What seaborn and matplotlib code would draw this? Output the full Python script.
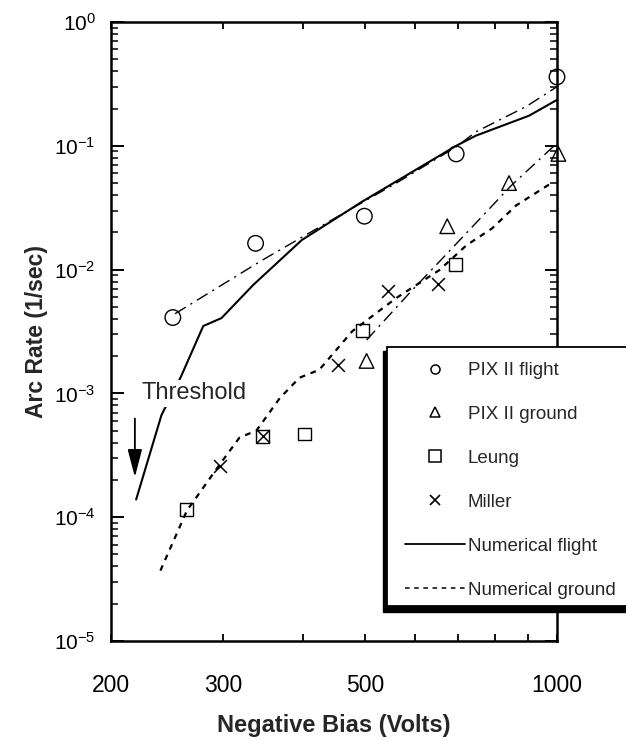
import matplotlib
matplotlib.use("Agg")
import matplotlib.pyplot as plt
import matplotlib.ticker as mticker
from matplotlib.lines import Line2D
from matplotlib.patches import Rectangle
import seaborn as sns

# measured points (negative bias in volts, arc rate in 1/sec)
flight_bias = [250, 337, 499, 695, 1000]
flight_rate = [4.1e-3, 1.63e-2, 2.7e-2, 8.6e-2, 0.36]

ground_bias = [503, 673, 841, 1005]
ground_rate = [1.83e-3, 2.24e-2, 5.0e-2, 8.6e-2]

leung_bias = [263, 346, 402, 496, 693]
leung_rate = [1.15e-4, 4.5e-4, 4.7e-4, 3.2e-3, 1.1e-2]

miller_bias = [296, 346, 453, 544, 652]
miller_rate = [2.6e-4, 4.5e-4, 1.7e-3, 6.7e-3, 7.6e-3]

# numerical model curves
num_flight_bias = [219, 240, 257, 279, 298, 334, 398, 496, 695, 747, 904, 1000]
num_flight_rate = [1.39e-4, 6.7e-4, 1.34e-3, 3.5e-3, 4.06e-3, 7.5e-3, 1.73e-2,
                   3.56e-2, 0.10, 0.121, 0.175, 0.235]

num_ground_bias = [239, 263, 296, 318, 338, 368, 395, 424, 478, 560, 654, 721, 791, 863, 980]
num_ground_rate = [3.7e-5, 1.13e-4, 2.66e-4, 4.4e-4, 5.0e-4, 9.2e-4, 1.34e-3, 1.55e-3,
                   3.19e-3, 5.9e-3, 9.9e-3, 1.57e-2, 2.15e-2, 3.3e-2, 5.0e-2]

# dash-dot guide lines through the PIX II data
flight_fit_bias = [252, 345, 468, 560, 695, 747, 894, 1000]
flight_fit_rate = [4.4e-3, 1.19e-2, 2.95e-2, 5.0e-2, 0.098, 0.13, 0.207, 0.30]

ground_fit_bias = [503, 587, 685, 848, 1000]
ground_fit_rate = [2.7e-3, 6.45e-3, 1.49e-2, 4.78e-2, 0.105]

XTICKS = [200, 300, 400, 500, 600, 700, 800, 900, 1000]
XTICK_LABELS = ["200", "300", "", "500", "", "", "", "", "1000"]

W, H = 626, 741


# ------------------------------------------------------------------------------
def main():
    sns.set_style("ticks")
    plt.rcParams["font.family"] = ["Liberation Sans", "DejaVu Sans"]
    plt.rcParams["axes.unicode_minus"] = False

    fig = plt.figure(figsize=(W / 100, H / 100), dpi=100)
    ax = fig.add_axes([111 / W, 1 - 641 / H, (557 - 111) / W, (641 - 22) / H])
    ax.set_xscale("log")
    ax.set_yscale("log")

    ### curves
    sns.lineplot(x=num_flight_bias, y=num_flight_rate, ax=ax, color="black",
                 lw=1.5, estimator=None, sort=False)
    sns.lineplot(x=num_ground_bias, y=num_ground_rate, ax=ax, color="black",
                 lw=1.6, linestyle=(0, (2.6, 2.6)), estimator=None, sort=False)
    sns.lineplot(x=flight_fit_bias, y=flight_fit_rate, ax=ax, color="black",
                 lw=1.0, linestyle=(0, (9, 4, 1.5, 4)), estimator=None, sort=False)
    sns.lineplot(x=ground_fit_bias, y=ground_fit_rate, ax=ax, color="black",
                 lw=1.0, linestyle=(0, (9, 4, 1.5, 4)), estimator=None, sort=False)

    ### data points (not clipped, the edge points sit on the spine)
    pts = dict(color="black", facecolor="none", edgecolor="black", linewidth=1.0,
               zorder=4, clip_on=False)
    sns.scatterplot(x=flight_bias, y=flight_rate, ax=ax, marker="o", s=125, **pts)
    sns.scatterplot(x=ground_bias, y=ground_rate, ax=ax, marker="^", s=110, **pts)
    sns.scatterplot(x=leung_bias, y=leung_rate, ax=ax, marker="s", s=85, **pts)
    sns.scatterplot(x=miller_bias, y=miller_rate, ax=ax, marker="x", s=85,
                    color="black", linewidth=1.1, zorder=4, clip_on=False)

    ax.set_xlim(200, 1000)
    ax.set_ylim(1e-5, 1)

    ### threshold annotation
    ax.text(223, 1.0e-3, "Threshold", fontsize=17, ha="left", va="center", zorder=5,
            bbox=dict(facecolor="white", edgecolor="none", pad=1.5))
    ax.annotate("", xy=(218, 2.0e-4), xytext=(218, 6.6e-4), zorder=5,
                arrowprops=dict(arrowstyle="-|>,head_length=1.0,head_width=0.26",
                                color="black", lw=1.3, mutation_scale=17))

    ### axes styling
    for side in ax.spines.values():
        side.set_linewidth(1.8)
        side.set_color("black")

    ax.xaxis.set_major_locator(mticker.FixedLocator(XTICKS))
    ax.xaxis.set_major_formatter(mticker.FixedFormatter(XTICK_LABELS))
    ax.xaxis.set_minor_locator(mticker.NullLocator())
    ax.yaxis.set_major_locator(mticker.LogLocator(base=10, numticks=10))
    ax.yaxis.set_minor_locator(mticker.LogLocator(base=10, subs=range(2, 10), numticks=10))
    ax.yaxis.set_minor_formatter(mticker.NullFormatter())

    ax.tick_params(axis="x", which="major", direction="in", length=5, width=1.3,
                   top=True, labelsize=16.5, pad=24, colors="black")
    ax.tick_params(axis="y", which="major", direction="in", length=9, width=1.4,
                   right=True, labelsize=15, pad=11, colors="black")
    ax.tick_params(axis="y", which="minor", direction="in", length=5, width=1.3,
                   right=True)

    ax.set_xlabel("Negative Bias (Volts)", fontsize=17, fontweight="bold", labelpad=12)
    ax.set_ylabel("Arc Rate (1/sec)", fontsize=16.5, fontweight="bold", labelpad=4)

    ### legend box with shadow, running off the right edge
    fig.patches.append(Rectangle((383 / W, 1 - 612 / H), (700 - 383) / W, (612 - 351) / H,
                                 transform=fig.transFigure, facecolor="black",
                                 edgecolor="black", zorder=5))
    fig.patches.append(Rectangle((387 / W, 1 - 606 / H), (700 - 387) / W, (606 - 347) / H,
                                 transform=fig.transFigure, facecolor="white",
                                 edgecolor="black", lw=1.3, zorder=5.5))

    handles = [
        Line2D([], [], ls="none", marker="o", ms=6.5, mfc="none", mec="black", mew=1.1),
        Line2D([], [], ls="none", marker="^", ms=7.5, mfc="none", mec="black", mew=1.1),
        Line2D([], [], ls="none", marker="s", ms=8, mfc="none", mec="black", mew=1.1),
        Line2D([], [], ls="none", marker="x", ms=7.5, mec="black", mew=1.2),
        Line2D([], [], color="black", lw=1.3),
        Line2D([], [], color="black", lw=1.1, ls=(0, (3, 3))),
    ]
    labels = ["PIX II flight", "PIX II ground", "Leung", "Miller",
              "Numerical flight", "Numerical ground"]
    leg = fig.legend(handles, labels, loc="upper left", bbox_to_anchor=(405 / W, 1 - 362 / H),
                     bbox_transform=fig.transFigure, frameon=False, fontsize=13.5,
                     handlelength=3.2, handletextpad=0.15, labelspacing=1.43,
                     borderpad=0, borderaxespad=0)
    leg.set_zorder(6)

    fig.savefig("out.png", dpi=100)


################################################################################
if __name__ == "__main__":
    main()
